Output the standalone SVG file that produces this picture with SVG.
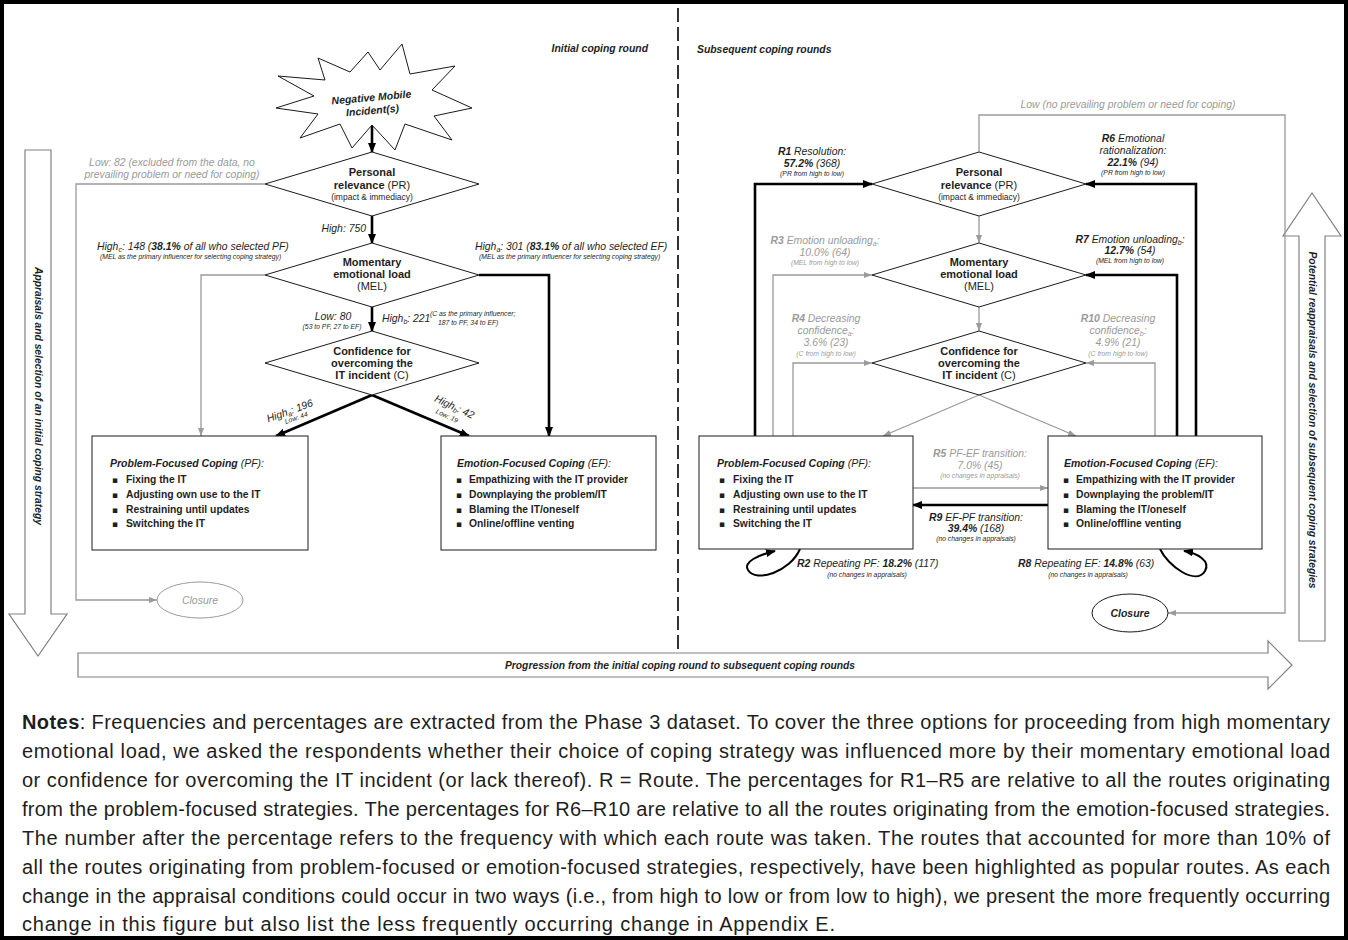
<svg xmlns="http://www.w3.org/2000/svg" width="1348" height="940" viewBox="0 0 1348 940">
<defs>
<style>
text{font-family:"Liberation Sans",Arial,"DejaVu Sans",sans-serif;fill:#1e1e1e}
.lab{font-size:10.4px;font-style:italic}
.gr{fill:#9a9a9a}
.sm{font-size:6.8px;font-style:italic}
.b{font-weight:bold}
.nd{font-size:11px;font-weight:bold;text-anchor:middle}
.nn{font-weight:normal}
.ni{font-size:8.5px;font-weight:normal}
.bt{font-size:10.5px;font-style:italic}
.bl{font-size:10.3px;font-weight:bold}
.bu{font-size:9px;font-family:"DejaVu Sans",sans-serif}
.shape{fill:#fff;stroke:#1a1a1a;stroke-width:1}
.blk{fill:none;stroke:#000;stroke-width:2.6}
.gry{fill:none;stroke:#9a9a9a;stroke-width:1.3}
.big{fill:#fff;stroke:#808080;stroke-width:1.2}
.bigt{font-size:10.3px;font-weight:bold;font-style:italic;text-anchor:middle}
.mid{text-anchor:middle}
.note{font-size:20px}
</style>
<marker id="ab" markerWidth="10" markerHeight="8" refX="9" refY="4" orient="auto" markerUnits="userSpaceOnUse"><path d="M0,0 L10,4 L0,8 z" fill="#000"/></marker>
<marker id="ag" markerWidth="8" markerHeight="6" refX="8" refY="3" orient="auto" markerUnits="userSpaceOnUse"><path d="M0,0 L8,3 L0,6 z" fill="#9a9a9a"/></marker>
</defs>
<rect width="1348" height="940" fill="#fff"/>
<rect x="2" y="2" width="1344" height="936" fill="none" stroke="#000" stroke-width="4"/>
<line x1="678" y1="8" x2="678" y2="652" stroke="#000" stroke-width="1.6" stroke-dasharray="14 5"/>

<text class="lab b" x="648" y="52" text-anchor="end">Initial coping round</text>
<text class="lab b" x="697" y="53">Subsequent coping rounds</text>

<g id="phase-arrows">
<polygon class="big" points="25,150 51,150 51,614 67,614 38,656 9,614 25,614"/>
<text class="bigt" transform="translate(34.5,396) rotate(90)">Appraisals and selection of an initial coping strategy</text>
<polygon class="big" points="1299,641 1325,641 1325,236 1341,236 1312,193 1283,236 1299,236"/>
<text class="bigt" transform="translate(1308.5,420) rotate(90)">Potential reappraisals and selection of subsequent coping strategies</text>
<polygon class="big" points="78,653 1268,653 1268,641 1292,665 1268,689 1268,677 78,677"/>
<text class="bigt" x="680" y="669">Progression from the initial coping round to subsequent coping rounds</text>
</g>

<g id="connectors">
<path class="blk" d="M372,126 V152" marker-end="url(#ab)"/>
<path class="blk" d="M372,216 V243" marker-end="url(#ab)"/>
<path class="blk" d="M372,307 V331" marker-end="url(#ab)"/>
<path class="gry" d="M265,184 H76 V600 H157" marker-end="url(#ag)"/>
<path class="gry" d="M265,275 H201 V436" marker-end="url(#ag)"/>
<path class="blk" d="M479,275 H549 V436" marker-end="url(#ab)"/>
<path class="blk" d="M372,395 L276,436" marker-end="url(#ab)"/>
<path class="blk" d="M372,395 L469,436" marker-end="url(#ab)"/>

<path class="gry" d="M979,152 V115 H1285 V613 H1168" marker-end="url(#ag)"/>
<path class="gry" d="M979,216 V243" marker-end="url(#ag)"/>
<path class="gry" d="M979,307 V331" marker-end="url(#ag)"/>
<path class="gry" d="M979,395 L883,436" marker-end="url(#ag)"/>
<path class="gry" d="M979,395 L1076,436" marker-end="url(#ag)"/>
<path class="blk" d="M755,436 V184 H872" marker-end="url(#ab)"/>
<path class="gry" d="M773,436 V275 H872" marker-end="url(#ag)"/>
<path class="gry" d="M793,436 V363 H872" marker-end="url(#ag)"/>
<path class="blk" d="M1196,436 V184 H1086" marker-end="url(#ab)"/>
<path class="blk" d="M1177,436 V275 H1086" marker-end="url(#ab)"/>
<path class="gry" d="M1155,436 V363 H1086" marker-end="url(#ag)"/>
<path class="gry" d="M913,488 H1048" marker-end="url(#ag)"/>
<path class="blk" d="M1048,505 H913" marker-end="url(#ab)"/>
<path fill="none" stroke="#000" stroke-width="2" d="M800,549 C790,572 756,583 748,570 C743,562 758,555 775,551" marker-end="url(#ab)"/>
<path fill="none" stroke="#000" stroke-width="2" d="M1160,549 C1168,566 1196,586 1205,571 C1211,561 1197,553 1184,551" marker-end="url(#ab)"/>
</g>

<g id="labels">
<text class="lab gr mid" x="172" y="166">Low: 82 (excluded from the data, no</text>
<text class="lab gr mid" x="172" y="178">prevailing problem or need for coping)</text>
<text class="lab" x="366" y="232" text-anchor="end">High: 750</text>
<text class="lab" x="97" y="250">High<tspan font-size="7" dy="2">c</tspan><tspan dy="-2">: 148 (</tspan><tspan class="b">38.1%</tspan> of all who selected PF)</text>
<text class="sm" x="100" y="259">(MEL as the primary influencer for selecting coping strategy)</text>
<text class="lab" x="475" y="250">High<tspan font-size="7" dy="2">a</tspan><tspan dy="-2">: 301 (</tspan><tspan class="b">83.1%</tspan> of all who selected EF)</text>
<text class="sm" x="479" y="259">(MEL as the primary influencer for selecting coping strategy)</text>
<text class="lab mid" x="333" y="320">Low: 80</text>
<text class="sm mid" x="332" y="329">(53 to PF, 27 to EF)</text>
<text class="lab" x="382" y="322">High<tspan font-size="7" dy="2">b</tspan><tspan dy="-2">: 221</tspan></text>
<text class="sm" x="430" y="316">(C as the primary influencer;</text>
<text class="sm" x="438" y="325">187 to PF, 34 to EF)</text>
<text class="lab mid" transform="translate(291,414) rotate(-20)">High<tspan font-size="7" dy="2">a</tspan><tspan dy="-2">: 196</tspan></text>
<text class="sm mid" transform="translate(297,420) rotate(-20)">Low: 44</text>
<text class="lab mid" transform="translate(453,410) rotate(25)">High<tspan font-size="7" dy="2">b</tspan><tspan dy="-2">: 42</tspan></text>
<text class="sm mid" transform="translate(446,418) rotate(25)">Low: 19</text>

<text class="lab gr mid" x="1128" y="108">Low (no prevailing problem or need for coping)</text>
<text class="lab mid" x="812" y="155"><tspan class="b">R1</tspan> Resolution:</text>
<text class="lab mid" x="812" y="167"><tspan class="b">57.2%</tspan> (368)</text>
<text class="sm mid" x="812" y="176">(PR from high to low)</text>
<text class="lab mid" x="1133" y="142"><tspan class="b">R6</tspan> Emotional</text>
<text class="lab mid" x="1133" y="154">rationalization:</text>
<text class="lab mid" x="1133" y="166"><tspan class="b">22.1%</tspan> (94)</text>
<text class="sm mid" x="1133" y="175">(PR from high to low)</text>
<text class="lab gr mid" x="825" y="244"><tspan class="b">R3</tspan> Emotion unloading<tspan font-size="7" dy="2">a</tspan><tspan dy="-2">:</tspan></text>
<text class="lab gr mid" x="825" y="256">10.0% (64)</text>
<text class="sm gr mid" x="825" y="265">(MEL from high to low)</text>
<text class="lab mid" x="1130" y="243"><tspan class="b">R7</tspan> Emotion unloading<tspan font-size="7" dy="2">b</tspan><tspan dy="-2">:</tspan></text>
<text class="lab mid" x="1130" y="254"><tspan class="b">12.7%</tspan> (54)</text>
<text class="sm mid" x="1130" y="263">(MEL from high to low)</text>
<text class="lab gr mid" x="826" y="322"><tspan class="b">R4</tspan> Decreasing</text>
<text class="lab gr mid" x="826" y="334">confidence<tspan font-size="7" dy="2">a</tspan><tspan dy="-2">:</tspan></text>
<text class="lab gr mid" x="826" y="346">3.6% (23)</text>
<text class="sm gr mid" x="826" y="356">(C from high to low)</text>
<text class="lab gr mid" x="1118" y="322"><tspan class="b">R10</tspan> Decreasing</text>
<text class="lab gr mid" x="1118" y="334">confidence<tspan font-size="7" dy="2">b</tspan><tspan dy="-2">:</tspan></text>
<text class="lab gr mid" x="1118" y="346">4.9% (21)</text>
<text class="sm gr mid" x="1118" y="356">(C from high to low)</text>
<text class="lab gr mid" x="980" y="457"><tspan class="b">R5</tspan> PF-EF transition:</text>
<text class="lab gr mid" x="980" y="469">7.0% (45)</text>
<text class="sm gr mid" x="980" y="478">(no changes in appraisals)</text>
<text class="lab mid" x="976" y="521"><tspan class="b">R9</tspan> EF-PF transition:</text>
<text class="lab mid" x="976" y="532"><tspan class="b">39.4%</tspan> (168)</text>
<text class="sm mid" x="976" y="541">(no changes in appraisals)</text>
<text class="lab" x="797" y="567"><tspan class="b">R2</tspan> Repeating PF: <tspan class="b">18.2%</tspan> (117)</text>
<text class="sm mid" x="867" y="577">(no changes in appraisals)</text>
<text class="lab" x="1018" y="567"><tspan class="b">R8</tspan> Repeating EF: <tspan class="b">14.8%</tspan> (63)</text>
<text class="sm mid" x="1088" y="577">(no changes in appraisals)</text>
</g>

<g id="incident">
<polygon class="shape" points="402,44 410,74 455,66 432,90 472,108 434,116 452,140 405,124 395,150 372,125 352,148 340,124 300,138 318,114 276,108 314,96 278,76 325,80 318,58 350,72 368,52 380,70"/>
<g transform="rotate(-5,372,105)">
<text class="bt b mid" x="372" y="101">Negative Mobile</text>
<text class="bt b mid" x="372" y="114">Incident(s)</text>
</g>
</g>

<g id="pr-initial">
<polygon class="shape" points="372,152 479,184 372,216 265,184"/>
<text class="nd" x="372" y="176">Personal</text>
<text class="nd" x="372" y="189">relevance <tspan class="nn">(PR)</tspan></text>
<text class="nd ni" x="372" y="200">(impact &amp; immediacy)</text>
</g>
<g id="mel-initial">
<polygon class="shape" points="372,243 479,275 372,307 265,275"/>
<text class="nd" x="372" y="266">Momentary</text>
<text class="nd" x="372" y="278">emotional load</text>
<text class="nd nn" x="372" y="290">(MEL)</text>
</g>
<g id="c-initial">
<polygon class="shape" points="372,331 479,363 372,395 265,363"/>
<text class="nd" x="372" y="355">Confidence for</text>
<text class="nd" x="372" y="367">overcoming the</text>
<text class="nd" x="372" y="379">IT incident <tspan class="nn">(C)</tspan></text>
</g>
<g id="pf-initial">
<rect class="shape" x="92" y="436" width="216" height="114"/>
<text class="bt" x="110" y="467"><tspan class="b">Problem-Focused Coping</tspan> (PF):</text>
<text class="bu" x="112" y="483">▪</text><text class="bl" x="126" y="483">Fixing the IT</text>
<text class="bu" x="112" y="498">▪</text><text class="bl" x="126" y="498">Adjusting own use to the IT</text>
<text class="bu" x="112" y="513">▪</text><text class="bl" x="126" y="513">Restraining until updates</text>
<text class="bu" x="112" y="527">▪</text><text class="bl" x="126" y="527">Switching the IT</text>
</g>
<g id="ef-initial">
<rect class="shape" x="441" y="436" width="215" height="114"/>
<text class="bt" x="457" y="467"><tspan class="b">Emotion-Focused Coping</tspan> (EF):</text>
<text class="bu" x="456" y="483">▪</text><text class="bl" x="469" y="483">Empathizing with the IT provider</text>
<text class="bu" x="456" y="498">▪</text><text class="bl" x="469" y="498">Downplaying the problem/IT</text>
<text class="bu" x="456" y="513">▪</text><text class="bl" x="469" y="513">Blaming the IT/oneself</text>
<text class="bu" x="456" y="527">▪</text><text class="bl" x="469" y="527">Online/offline venting</text>
</g>
<g id="closure-initial">
<ellipse cx="200" cy="600" rx="43" ry="18" fill="#fff" stroke="#9a9a9a" stroke-width="1"/>
<text class="bt gr mid" x="200" y="604">Closure</text>
</g>

<g id="pr-subsequent">
<polygon class="shape" points="979,152 1086,184 979,216 872,184"/>
<text class="nd" x="979" y="176">Personal</text>
<text class="nd" x="979" y="189">relevance <tspan class="nn">(PR)</tspan></text>
<text class="nd ni" x="979" y="200">(impact &amp; immediacy)</text>
</g>
<g id="mel-subsequent">
<polygon class="shape" points="979,243 1086,275 979,307 872,275"/>
<text class="nd" x="979" y="266">Momentary</text>
<text class="nd" x="979" y="278">emotional load</text>
<text class="nd nn" x="979" y="290">(MEL)</text>
</g>
<g id="c-subsequent">
<polygon class="shape" points="979,331 1086,363 979,395 872,363"/>
<text class="nd" x="979" y="355">Confidence for</text>
<text class="nd" x="979" y="367">overcoming the</text>
<text class="nd" x="979" y="379">IT incident <tspan class="nn">(C)</tspan></text>
</g>
<g id="pf-subsequent">
<rect class="shape" x="699" y="436" width="214" height="113"/>
<text class="bt" x="717" y="467"><tspan class="b">Problem-Focused Coping</tspan> (PF):</text>
<text class="bu" x="719" y="483">▪</text><text class="bl" x="733" y="483">Fixing the IT</text>
<text class="bu" x="719" y="498">▪</text><text class="bl" x="733" y="498">Adjusting own use to the IT</text>
<text class="bu" x="719" y="513">▪</text><text class="bl" x="733" y="513">Restraining until updates</text>
<text class="bu" x="719" y="527">▪</text><text class="bl" x="733" y="527">Switching the IT</text>
</g>
<g id="ef-subsequent">
<rect class="shape" x="1048" y="436" width="214" height="113"/>
<text class="bt" x="1064" y="467"><tspan class="b">Emotion-Focused Coping</tspan> (EF):</text>
<text class="bu" x="1063" y="483">▪</text><text class="bl" x="1076" y="483">Empathizing with the IT provider</text>
<text class="bu" x="1063" y="498">▪</text><text class="bl" x="1076" y="498">Downplaying the problem/IT</text>
<text class="bu" x="1063" y="513">▪</text><text class="bl" x="1076" y="513">Blaming the IT/oneself</text>
<text class="bu" x="1063" y="527">▪</text><text class="bl" x="1076" y="527">Online/offline venting</text>
</g>
<g id="closure-subsequent">
<ellipse cx="1130" cy="613" rx="38" ry="19" fill="#fff" stroke="#1a1a1a" stroke-width="1"/>
<text class="bt b mid" x="1130" y="617">Closure</text>
</g>

<g id="notes">
<text class="note" x="22" y="729" textLength="1308" lengthAdjust="spacing"><tspan class="b">Notes</tspan>: Frequencies and percentages are extracted from the Phase 3 dataset. To cover the three options for proceeding from high momentary</text>
<text class="note" x="22" y="758" textLength="1308" lengthAdjust="spacing">emotional load, we asked the respondents whether their choice of coping strategy was influenced more by their momentary emotional load</text>
<text class="note" x="22" y="787" textLength="1308" lengthAdjust="spacing">or confidence for overcoming the IT incident (or lack thereof). R = Route. The percentages for R1–R5 are relative to all the routes originating</text>
<text class="note" x="22" y="816" textLength="1308" lengthAdjust="spacing">from the problem-focused strategies. The percentages for R6–R10 are relative to all the routes originating from the emotion-focused strategies.</text>
<text class="note" x="22" y="845" textLength="1308" lengthAdjust="spacing">The number after the percentage refers to the frequency with which each route was taken. The routes that accounted for more than 10% of</text>
<text class="note" x="22" y="874" textLength="1308" lengthAdjust="spacing">all the routes originating from problem-focused or emotion-focused strategies, respectively, have been highlighted as popular routes. As each</text>
<text class="note" x="22" y="903" textLength="1308" lengthAdjust="spacing">change in the appraisal conditions could occur in two ways (i.e., from high to low or from low to high), we present the more frequently occurring</text>
<text class="note" x="22" y="931" textLength="813" lengthAdjust="spacing">change in this figure but also list the less frequently occurring change in Appendix E.</text>
</g>
</svg>
